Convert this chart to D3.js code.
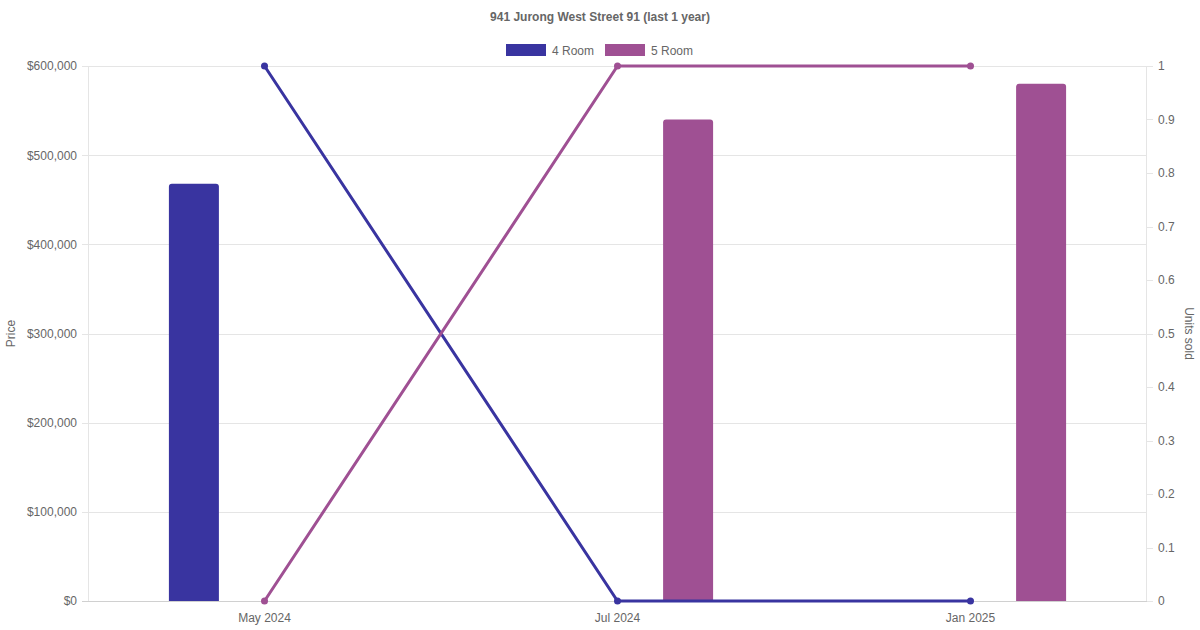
<!DOCTYPE html>
<meta charset="utf-8">
<style>
body { margin: 0; background: #fff; }
text { font-family: "Liberation Sans", Arial, sans-serif; fill: #666; }
.grid line { stroke: #e5e5e5; shape-rendering: crispEdges; }
</style>
<body>
<script src="https://cdn.jsdelivr.net/npm/d3@7"></script>
<script>
var months = ["May 2024", "Jul 2024", "Jan 2025"];
var seriesNames = ["4 Room", "5 Room"];
var colors = ["#3934a0", "#9f5093"];
// median price per month (null = no sale)
var price4 = [468000, null, null];
var price5 = [null, 540000, 580000];
// units sold
var units4 = [1, 0, 0];
var units5 = [0, 1, 1];
var priceTicks = [0, 100000, 200000, 300000, 400000, 500000, 600000];
var unitTicks = [0, 0.1, 0.2, 0.3, 0.4, 0.5, 0.6, 0.7, 0.8, 0.9, 1];

var W = 1200, H = 630;
var margin = {top: 66, right: 53, bottom: 29, left: 88};
var width = W - margin.left - margin.right,
    height = H - margin.top - margin.bottom;

var svg = d3.select("body").append("svg")
  .attr("width", W).attr("height", H);

svg.append("text")
  .attr("x", W / 2).attr("y", 21)
  .attr("text-anchor", "middle")
  .style("font-size", "12px").style("font-weight", "bold")
  .text("941 Jurong West Street 91 (last 1 year)");

// legend
var legend = svg.append("g");
var lx = [506, 605];
seriesNames.forEach(function(name, i) {
  legend.append("rect").attr("x", lx[i]).attr("y", 44).attr("width", 40).attr("height", 12)
    .attr("fill", colors[i]);
  legend.append("text").attr("x", lx[i] + 46).attr("y", 54.5)
    .style("font-size", "12px").text(name);
});

var g = svg.append("g").attr("transform", "translate(" + margin.left + "," + margin.top + ")");

var x = d3.scaleBand().domain(months).range([0, width]);
var xSub = d3.scaleBand().domain(seriesNames).range([0, x.bandwidth() * 0.8]);
var y = d3.scaleLinear().domain([0, 600000]).range([height, 0]);
var y1 = d3.scaleLinear().domain([0, 1]).range([height, 0]);

// grid
var grid = g.append("g").attr("class", "grid");
grid.selectAll("line").data(priceTicks).enter().append("line")
  .attr("x1", -6).attr("x2", width)
  .attr("y1", function(d) { return Math.round(y(d)) + 0.5; })
  .attr("y2", function(d) { return Math.round(y(d)) + 0.5; })
  .attr("stroke", function(d) { return d === 0 ? "#d0d0d0" : "#e5e5e5"; })
  .style("stroke", function(d) { return d === 0 ? "#d0d0d0" : null; });
grid.append("line").attr("x1", 0.5).attr("x2", 0.5).attr("y1", 0).attr("y2", height);
grid.append("line").attr("x1", width - 0.5).attr("x2", width - 0.5).attr("y1", 0).attr("y2", height);
grid.selectAll(".rt").data(unitTicks).enter().append("line")
  .attr("x1", width).attr("x2", width + 6)
  .attr("y1", function(d) { return Math.round(y1(d)) + 0.5; })
  .attr("y2", function(d) { return Math.round(y1(d)) + 0.5; });

// axes labels
var yAxis = d3.axisLeft(y).tickValues(priceTicks).tickSize(0).tickPadding(11)
  .tickFormat(function(d) { return "$" + d3.format(",")(d); });
g.append("g").call(yAxis).call(function(s) { s.select(".domain").remove(); })
  .selectAll("text").style("font-size", "12px").attr("fill", "#666");

var y1Axis = d3.axisRight(y1).tickValues(unitTicks).tickSize(0).tickPadding(11)
  .tickFormat(d3.format(""));
g.append("g").attr("transform", "translate(" + width + ",0)").call(y1Axis)
  .call(function(s) { s.select(".domain").remove(); })
  .selectAll("text").style("font-size", "12px").attr("fill", "#666");

var xAxis = d3.axisBottom(x).tickSize(0).tickPadding(12);
g.append("g").attr("transform", "translate(0," + height + ")").call(xAxis)
  .call(function(s) { s.select(".domain").remove(); })
  .selectAll("text").style("font-size", "12px").attr("fill", "#666");

svg.append("text").attr("transform", "translate(15," + (margin.top + height / 2) + ") rotate(-90)")
  .attr("text-anchor", "middle").style("font-size", "12px").text("Price");
svg.append("text").attr("transform", "translate(1185," + (margin.top + height / 2) + ") rotate(90)")
  .attr("text-anchor", "middle").style("font-size", "12px").text("Units sold");

// bars
var barW = 50, r = 3;
function barPath(cx, v) {
  var x0 = cx - barW / 2, x1 = cx + barW / 2, yt = y(v), yb = height;
  return "M" + x0 + "," + yb + "V" + (yt + r) + "Q" + x0 + "," + yt + " " + (x0 + r) + "," + yt +
    "H" + (x1 - r) + "Q" + x1 + "," + yt + " " + x1 + "," + (yt + r) + "V" + yb + "Z";
}
[price4, price5].forEach(function(vals, si) {
  g.append("g").selectAll("path").data(vals.map(function(v, i) { return {m: months[i], v: v}; })
    .filter(function(d) { return d.v != null; }))
    .enter().append("path")
    .attr("d", function(d) {
      var cx = x(d.m) + x.bandwidth() * 0.1 + xSub(seriesNames[si]) + xSub.bandwidth() / 2;
      return barPath(cx, d.v);
    })
    .attr("fill", colors[si]);
});

// lines
var line = d3.line()
  .x(function(d, i) { return x(months[i]) + x.bandwidth() / 2; })
  .y(function(d) { return y1(d); });
[units4, units5].forEach(function(vals, si) {
  g.append("path").datum(vals).attr("d", line)
    .attr("fill", "none").attr("stroke", colors[si]).attr("stroke-width", 3);
  g.append("g").selectAll("circle").data(vals).enter().append("circle")
    .attr("cx", function(d, i) { return x(months[i]) + x.bandwidth() / 2; })
    .attr("cy", function(d) { return y1(d); })
    .attr("r", 3.5).attr("fill", colors[si]);
});
</script>
